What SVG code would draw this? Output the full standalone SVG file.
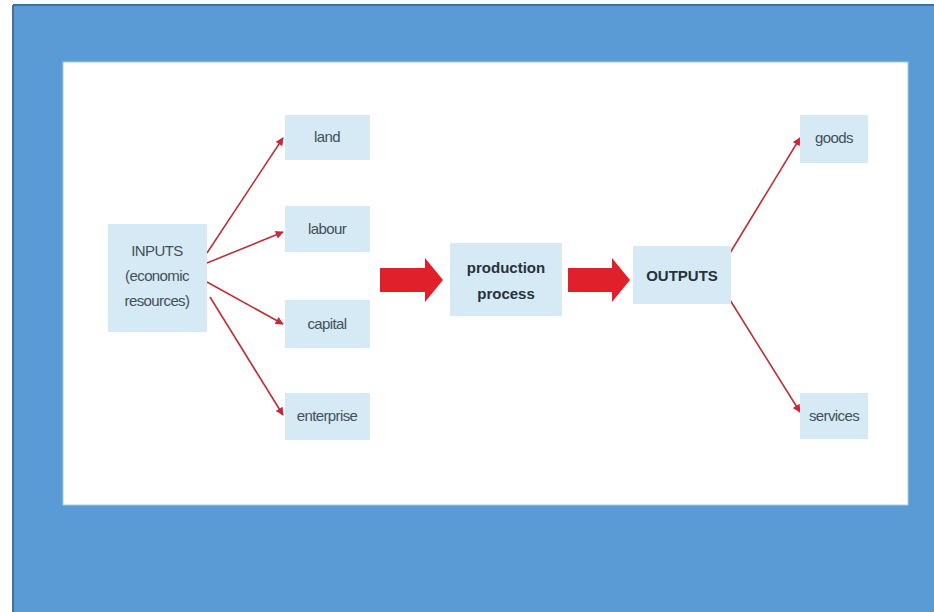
<svg xmlns="http://www.w3.org/2000/svg" width="934" height="612" viewBox="0 0 934 612">
<defs>
<style>
.box{fill:#d5eaf4;}
.t{font-family:"Liberation Sans",Arial,sans-serif;font-size:15px;fill:#44505a;text-anchor:middle;letter-spacing:-0.6px;}
.b{font-family:"Liberation Sans","DejaVu Sans",Arial,sans-serif;font-size:15px;font-weight:bold;fill:#26323c;text-anchor:middle;}
.ln{stroke:#b8323a;stroke-width:1.6;fill:none;marker-end:url(#ah);}
.big{fill:#e0202a;}
</style>
<marker id="ah" viewBox="0 0 10 10" refX="9" refY="5" markerWidth="11" markerHeight="8" orient="auto" markerUnits="userSpaceOnUse">
<path d="M0,0 L10,5 L0,10 z" fill="#c8283a"/>
</marker>
</defs>
<rect x="0" y="0" width="934" height="612" fill="#ffffff"/>
<rect x="13" y="5" width="921" height="607" fill="#5b9bd5"/>
<line x1="13" y1="5" x2="934" y2="5" stroke="#41719c" stroke-width="2"/>
<line x1="13" y1="5" x2="13" y2="612" stroke="#41719c" stroke-width="2"/>
<rect x="63" y="62" width="845" height="443" fill="#ffffff" stroke="#a9c8e8" stroke-width="1"/>

<g id="connectors">
<line class="ln" x1="207" y1="253" x2="283" y2="138"/>
<line class="ln" x1="207" y1="263" x2="283" y2="232"/>
<line class="ln" x1="207" y1="282" x2="283" y2="324"/>
<line class="ln" x1="210" y1="297" x2="283" y2="415"/>
<line class="ln" x1="730" y1="253" x2="800" y2="138"/>
<line class="ln" x1="730" y1="300" x2="800" y2="412"/>
<path class="big" d="M380,268 H425 V258 L443,280 L425,302 V292 H380 Z"/>
<path class="big" d="M568,268 H612 V258 L630,280 L612,302 V292 H568 Z"/>
</g>

<g id="inputs">
<rect class="box" x="108" y="224" width="99" height="108"/>
<text class="t" x="157" y="256">INPUTS</text>
<text class="t" x="157" y="281">(economic</text>
<text class="t" x="157" y="306">resources)</text>
</g>
<g id="land">
<rect class="box" x="285" y="115" width="85" height="45"/>
<text class="t" x="327" y="142">land</text>
</g>
<g id="labour">
<rect class="box" x="285" y="206" width="85" height="46"/>
<text class="t" x="327" y="234">labour</text>
</g>
<g id="capital">
<rect class="box" x="285" y="300" width="85" height="48"/>
<text class="t" x="327" y="329">capital</text>
</g>
<g id="enterprise">
<rect class="box" x="285" y="393" width="85" height="47"/>
<text class="t" x="327" y="421">enterprise</text>
</g>
<g id="production">
<rect class="box" x="450" y="243" width="112" height="73"/>
<text class="b" x="506" y="273">production</text>
<text class="b" x="506" y="299">process</text>
</g>
<g id="outputs">
<rect class="box" x="633" y="246" width="98" height="58"/>
<text class="b" x="682" y="281">OUTPUTS</text>
</g>
<g id="goods">
<rect class="box" x="800" y="115" width="68" height="48"/>
<text class="t" x="834" y="143">goods</text>
</g>
<g id="services">
<rect class="box" x="800" y="393" width="68" height="46"/>
<text class="t" x="834" y="421">services</text>
</g>
</svg>
